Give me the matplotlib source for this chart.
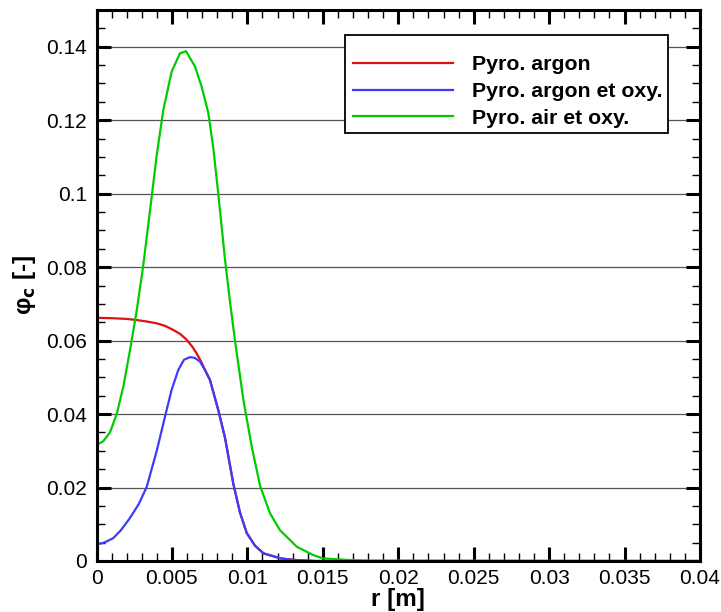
import matplotlib
matplotlib.use("Agg")
import matplotlib.pyplot as plt
from matplotlib.ticker import MultipleLocator, FuncFormatter
from matplotlib.patches import Rectangle

# ---- data ----
r_argon = [0, 0.001, 0.002, 0.00266, 0.00333, 0.00399, 0.00455, 0.00509, 0.00555, 0.00598,
           0.00632, 0.00664, 0.00692, 0.00719, 0.00752, 0.00807, 0.00852, 0.00907, 0.00951,
           0.00996, 0.0105, 0.01106, 0.0122, 0.0131, 0.0145, 0.04]
phi_argon = [0.0662, 0.0661, 0.0659, 0.0656, 0.0652, 0.0647, 0.0640, 0.0629, 0.0618, 0.0602,
             0.0585, 0.0565, 0.0544, 0.0520, 0.0493, 0.0411, 0.0335, 0.0210, 0.0132,
             0.0076, 0.0042, 0.0021, 0.0007, 0.0003, 0.0, 0.0]

r_argon_oxy = [0, 0.0005, 0.0011, 0.0016, 0.0022, 0.0028, 0.00333, 0.00398, 0.00454, 0.00498,
               0.00542, 0.0058, 0.0062, 0.0065, 0.00686, 0.00719, 0.00752, 0.00807, 0.00852,
               0.00907, 0.00951, 0.00996, 0.0105, 0.01106, 0.0122, 0.0131, 0.0145, 0.04]
phi_argon_oxy = [0.0045, 0.0050, 0.0062, 0.0083, 0.0116, 0.0155, 0.0202, 0.0298, 0.0393, 0.0466,
                 0.0520, 0.0548, 0.0555, 0.0553, 0.0543, 0.0520, 0.0493, 0.0411, 0.0335,
                 0.0210, 0.0132, 0.0076, 0.0042, 0.0021, 0.0007, 0.0003, 0.0, 0.0]

r_air_oxy = [0, 0.00045, 0.00089, 0.00134, 0.00178, 0.00222, 0.00267, 0.0031, 0.00366, 0.00399,
             0.00443, 0.00498, 0.00553, 0.00593, 0.00653, 0.00697, 0.00741, 0.00774, 0.00807,
             0.00852, 0.00885, 0.00918, 0.00973, 0.01029, 0.01084, 0.0115, 0.01216, 0.01327,
             0.01437, 0.01503, 0.0166, 0.0181, 0.04]
phi_air_oxy = [0.0316, 0.0326, 0.0350, 0.0400, 0.0475, 0.0574, 0.0683, 0.0805, 0.0992, 0.1105,
               0.1228, 0.1332, 0.1382, 0.1388, 0.1346, 0.1291, 0.1220, 0.1125, 0.1000,
               0.0820, 0.0705, 0.0600, 0.0440, 0.0311, 0.0205, 0.0130, 0.0084, 0.0039,
               0.0016, 0.0007, 0.0003, 0.0001, 0.0]

labels = ["Pyro. argon", "Pyro. argon et oxy.", "Pyro. air et oxy."]
colors = ["#dd1111", "#3c3cff", "#00cc00"]

tick_font = ["Liberation Sans", "DejaVu Sans"]

fig = plt.figure(figsize=(7.21, 6.12), dpi=100)
ax = fig.add_axes([96.5 / 721, (612 - 561) / 612, (700 - 96.5) / 721, (561 - 10) / 612])

ax.plot(r_argon, phi_argon, color=colors[0], lw=1.6, label=labels[0])
ax.plot(r_argon_oxy, phi_argon_oxy, color=colors[1], lw=1.6, label=labels[1])
ax.plot(r_air_oxy, phi_air_oxy, color=colors[2], lw=1.6, label=labels[2])

ax.set_xlim(0, 0.04)
ax.set_ylim(0, 0.15)
ax.xaxis.set_major_locator(MultipleLocator(0.005))
ax.xaxis.set_minor_locator(MultipleLocator(0.001))
ax.yaxis.set_major_locator(MultipleLocator(0.02))
ax.yaxis.set_minor_locator(MultipleLocator(0.005))

def fmt(v, pos):
    s = f"{v:.3f}".rstrip("0").rstrip(".")
    return "0" if abs(v) < 1e-12 else s

ax.xaxis.set_major_formatter(FuncFormatter(fmt))
ax.yaxis.set_major_formatter(FuncFormatter(fmt))

ax.grid(True, axis="y", which="major", color="#555555", lw=0.9)
ax.set_axisbelow(True)

ax.tick_params(which="both", direction="in", top=True, right=True)
ax.tick_params(axis="x", which="major", length=10, width=2.2, pad=6)
ax.tick_params(axis="y", which="major", length=10, width=2.2, pad=7)
ax.tick_params(which="minor", length=5.5, width=1.0)
for sp in ax.spines.values():
    sp.set_linewidth(2.2)

for lab in ax.get_xticklabels() + ax.get_yticklabels():
    lab.set_family(tick_font)
    lab.set_fontsize(15)

ax.set_xlabel("r [m]", family=tick_font, fontsize=17.5, fontweight="bold", labelpad=0)
ax.set_ylabel("\u03c6$_{\\mathbf{c}}$ [-]", family=tick_font, fontsize=17.5,
              fontweight="bold", labelpad=6)

# legend frame
rect = Rectangle((0.4118, 0.7768), 0.947 - 0.4118, 0.9546 - 0.7768, transform=ax.transAxes,
                 facecolor="white", edgecolor="black", lw=1.3, zorder=4.5)
ax.add_patch(rect)

leg = ax.legend(loc="center left", bbox_to_anchor=(0.425, 0.852), frameon=False,
                handlelength=4.7, handletextpad=0.88, labelspacing=0.37, borderpad=0,
                borderaxespad=0,
                prop={"family": tick_font, "weight": "bold", "size": 15.3})
leg.set_zorder(6)
for line in leg.get_lines():
    line.set_linewidth(1.6)

fig.savefig("out.png", dpi=100)
